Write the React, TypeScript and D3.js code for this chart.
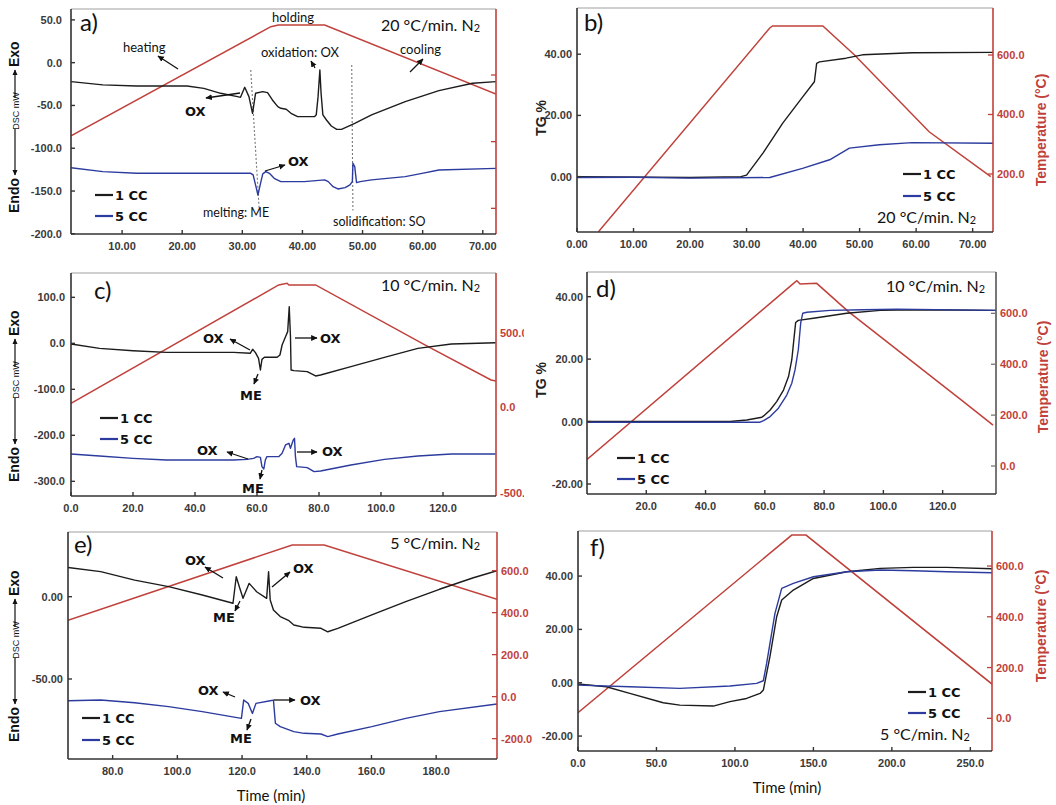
import React from "react";
import * as d3 from "d3";

type Pt = [number, number];

// ---------------- DATA ----------------
// Panel a) DSC, 20 °C/min (time min, DSC mW) ; temperature (time, °C)
const dscA_1cc: Pt[] = [[1.5,-22.2],[6.8,-26],[12.4,-27.3],[20.8,-27.3],[23.6,-30],[26.4,-35.8],[29.2,-39.7],[29.7,-40.5],[30.4,-28.8],[31.1,-39.7],[31.7,-59.2],[32.2,-35.8],[33.4,-33.9],[34.2,-35],[35.0,-43.6],[35.9,-51.4],[36.4,-53.3],[37.3,-54.5],[38.1,-59.2],[39.2,-63.1],[42.0,-63.1],[42.3,-61],[42.6,-39.7],[42.9,-8.6],[43.1,-35.8],[43.4,-61],[44.0,-67],[44.8,-74],[45.7,-77.9],[46.5,-77.9],[48.7,-70.9],[51.5,-61.1],[57.1,-45.6],[62.7,-32.7],[68.3,-24.1],[72.2,-22.2]];
const dscA_5cc: Pt[] = [[1.5,-122.7],[6.8,-127.3],[12.4,-129.3],[31.4,-129.3],[31.8,-131.2],[32.2,-142.9],[32.6,-154.6],[32.97,-142.9],[33.4,-130],[33.9,-127.3],[34.5,-129.3],[35.3,-135.1],[36.4,-139],[40.3,-139],[43.7,-137],[44.3,-139],[45.1,-144.9],[45.9,-147.6],[47.1,-146],[47.9,-142.9],[48.3,-139],[48.4,-117.6],[48.7,-121.5],[49.0,-140.2],[49.6,-139],[51.5,-137],[57.1,-133.2],[59.9,-129.3],[62.7,-125.4],[72.2,-123.5]];
const tempA: Pt[] = [[1.5,35],[34.75,690],[36,700],[43.7,700],[72.2,286]];
const guideA1: Pt[] = [[31.4,-8.6],[32.8,-170.8]];
const guideA2: Pt[] = [[48.2,-2.7],[48.4,-172.7]];

// Panel b) TG, 20 °C/min
const tgB_1cc: Pt[] = [[0,0],[20,-0.3],[29,0],[30,0.5],[32.9,7.7],[36.4,17.5],[39.9,26],[42,31],[42.4,37],[42.9,37.5],[47.6,38.7],[50.5,39.8],[59.3,40.5],[73.6,40.6]];
const tgB_5cc: Pt[] = [[0,-0.3],[10,-0.2],[20,-0.5],[34.1,-0.3],[39.9,2.7],[44.7,5.5],[48.2,9.3],[53.5,10.4],[59.3,11.1],[73.6,10.9]];
const tempB: Pt[] = [[3.8,6],[34.1,690.8],[34.6,697.5],[43.5,697.5],[49.1,600],[62.3,342],[73.2,191]];

// Panel c) DSC, 10 °C/min
const dscC_1cc: Pt[] = [[0,-1.4],[9.2,-10.9],[20,-16],[30.8,-19.6],[52.4,-19.6],[57.8,-21.7],[58.6,-13],[59.5,-20.3],[60.5,-32.6],[61.1,-58],[61.6,-34.8],[62.4,-30.4],[66.5,-30.4],[67.4,-25.4],[68.1,-3.6],[69.2,14.5],[69.9,25.4],[70.4,79.7],[70.8,14.5],[71,-58],[71.9,-59.4],[76.2,-61.6],[78.9,-71],[80.5,-68.8],[90.3,-50.7],[101.1,-30.4],[111.9,-10.9],[122.7,-1.4],[137,1.4]];
const dscC_5cc: Pt[] = [[0,-240.6],[9.2,-244.9],[20,-250],[30.8,-253.6],[52.4,-253.6],[56.8,-252.2],[58.9,-250],[60,-246.4],[61.1,-247.8],[61.6,-268],[62.2,-273.2],[62.7,-253.6],[63.2,-246.4],[67,-246.4],[68.1,-239],[69.2,-221],[70.3,-217.4],[70.8,-228],[71.7,-210],[72.1,-206.5],[72.4,-246.4],[72.8,-268],[76.2,-270.3],[78.4,-279],[80.5,-277.5],[90.3,-264.5],[101.1,-252.2],[111.9,-244.9],[122.7,-240.6],[137,-240.6]];
const tempC: Pt[] = [[0,22.7],[67,829.5],[69.7,841],[70.3,829.5],[78.9,829.5],[114.3,420],[135.5,182],[137.1,175]];

// Panel d) TG, 10 °C/min
const tgD_1cc: Pt[] = [[0,0],[48.3,0],[53.9,0.5],[59,1.4],[59.6,1.8],[61.8,3.7],[64,6.4],[66.3,10.1],[68,14.4],[69.1,19.8],[69.9,27.2],[70.4,31.7],[71.3,32.4],[76.4,33.1],[87.6,34.7],[98.9,35.6],[110.1,35.8],[138,35.6]];
const tgD_5cc: Pt[] = [[0,-0.2],[58.4,-0.2],[59.6,0.3],[61.8,1.6],[64.6,4.3],[67.4,8.5],[69.1,12.3],[70.2,16.6],[71.3,23],[72.1,31.5],[72.8,34.7],[74.2,35],[82,35.6],[93.3,35.8],[104.5,36],[138,35.6]];
const tempD: Pt[] = [[0,26],[69.7,718],[70.8,728],[71.9,715],[77.5,718],[88.2,607],[127,253],[137,161]];

// Panel e) DSC, 5 °C/min
const dscE_1cc: Pt[] = [[66.2,17.7],[76.3,15.2],[86.8,10.1],[97.3,6.1],[107.7,1],[117.2,-4],[118.2,12.1],[119.3,5.1],[120.3,-1],[122.2,8.1],[124.5,3],[127.6,-1],[128.2,15.2],[128.7,-2],[129.7,-8.1],[131.8,-12.1],[134.5,-14.6],[136,-17.2],[139.2,-18.6],[144.4,-19.2],[146.5,-21.3],[149.6,-19.2],[160.1,-11.1],[170.6,-3],[181,4.5],[191.5,11.5],[198.8,15.8]];
const dscE_5cc: Pt[] = [[66.2,-63.2],[76.3,-62.8],[86.8,-64.4],[97.3,-66.8],[107.7,-69.8],[119.8,-73.9],[120.5,-62.8],[121.9,-64.8],[123.2,-70.9],[124.3,-64.8],[128.7,-63.2],[129.7,-62.8],[130.3,-76.9],[131.8,-78.9],[136,-82],[139.2,-83],[144.4,-83.4],[146.5,-85],[149.6,-83.4],[160.1,-78.9],[170.6,-73.9],[181,-69.8],[198.8,-65.2]];
const tempE: Pt[] = [[66.2,364],[135.5,722],[145.4,722],[198.8,463.5]];

// Panel f) TG, 5 °C/min
const tgF_1cc: Pt[] = [[0,-0.5],[18.1,-1.5],[33,-4],[54.3,-7.5],[64.9,-8.4],[86.2,-8.75],[96.8,-7.1],[107.4,-5.9],[116,-4],[118.1,-2.75],[122.3,9.75],[126.6,24.75],[129.8,31],[137.2,34.75],[150,39.1],[171.3,41.6],[192.6,42.9],[213.8,43.25],[235.1,43.25],[263.8,42.75]];
const tgF_5cc: Pt[] = [[0,-0.9],[33,-1.5],[64.9,-2.1],[96.8,-1.25],[113.8,-0.25],[118.1,0.75],[120.2,7.25],[125.5,26],[129.8,35.4],[137.2,37.25],[150,39.75],[171.3,41.6],[192.6,42.25],[213.8,42],[235.1,41.6],[263.8,41.25]];
const tempF: Pt[] = [[0,22],[136.2,722],[145.3,722],[263.8,135]];

// Tick values
const xTicksA = [10, 20, 30, 40, 50, 60, 70];
const yTicksA = [50, 0, -50, -100, -150, -200];
const tTicksA = [400, 0, -400];
const xTicksB = [0, 10, 20, 30, 40, 50, 60, 70];
const yTicksB = [40, 20, 0];
const tTicksB = [600, 400, 200];
const xTicksC = [0, 20, 40, 60, 80, 100, 120];
const yTicksC = [100, 0, -100, -200, -300];
const tTicksC = [500, 0, -500];
const xTicksD = [20, 40, 60, 80, 100, 120];
const yTicksD = [40, 20, 0, -20];
const tTicksD = [600, 400, 200, 0];
const xTicksE = [80, 100, 120, 140, 160, 180];
const yTicksE = [0, -50];
const tTicksE = [600, 400, 200, 0, -200];
const xTicksF = [0, 50, 100, 150, 200, 250];
const yTicksF = [40, 20, 0, -20];
const tTicksF = [600, 400, 200, 0];

const legendLabels = ["1 CC", "5 CC"];

// ---------------- STYLE ----------------
const BLACK = "#1c1c1c";
const BLUE = "#2c3b9e";
const RED = "#c0413b";
const TICKF = "'Liberation Sans', Arial, sans-serif";
const CAL = "Lato, 'Open Sans', sans-serif";
const BOLDF = "'DejaVu Sans', Verdana, sans-serif";

type Txt = { x: number; y: number; s: string; size?: number; font?: string; weight?: string | number; anchor?: string; fill?: string; sub?: string };
type Arr = [number, number, number, number];

type PanelCfg = {
  id: string;
  frame: { l: number; r: number; t: number; b: number };
  xDomain: number[];
  yDomain: number[];
  tDomain: number[];
  tRange?: number[];
  xTicks: number[]; xDig: number;
  yTicks: number[]; yDig: number;
  tTicks: number[]; tLabels: boolean;
  s1: Pt[]; s5: Pt[]; temp: Pt[];
  guides?: Pt[][];
  rightColor: string;
  yLabelGap: number;
  clipRightLabels?: number;
  texts: Txt[];
  arrows: Arr[];
  legend: { x: number; y: number; gap: number };
};

const fmt = (v: number, d: number) => v.toFixed(d);

function Label({ t }: { t: Txt }) {
  return (
    <text x={t.x} y={t.y} fontSize={t.size ?? 13} fontFamily={t.font ?? CAL} fontWeight={t.weight ?? "normal"}
      textAnchor={(t.anchor as any) ?? "start"} fill={t.fill ?? "#111"}>
      {t.s}
      {t.sub ? <tspan fontSize={(t.size ?? 13) * 0.68} dy={1}>{t.sub}</tspan> : null}
    </text>
  );
}

function Panel({ p }: { p: PanelCfg }) {
  const { l, r, t, b } = p.frame;
  const x = d3.scaleLinear().domain(p.xDomain).range([l, r]);
  const y = d3.scaleLinear().domain(p.yDomain).range([b, t]);
  const T = d3.scaleLinear().domain(p.tDomain).range(p.tRange ?? [b, t]);
  const ln = d3.line<Pt>().x((d) => x(d[0])).y((d) => y(d[1]));
  const tl = d3.line<Pt>().x((d) => x(d[0])).y((d) => T(d[1]));
  const clipId = `clip-${p.id}`;
  const lblClip = `lclip-${p.id}`;
  return (
    <g>
      <defs>
        <clipPath id={clipId}><rect x={l} y={t} width={r - l} height={b - t} /></clipPath>
        {p.clipRightLabels ? <clipPath id={lblClip}><rect x={r} y={t - 10} width={p.clipRightLabels - r} height={b - t + 20} /></clipPath> : null}
      </defs>
      <g clipPath={`url(#${clipId})`}>
        <path d={tl(p.temp) ?? ""} fill="none" stroke={RED} strokeWidth={1.5} />
        {(p.guides ?? []).map((g, i) => (
          <path key={i} d={ln(g) ?? ""} fill="none" stroke="#777" strokeWidth={1.1} strokeDasharray="2,2" />
        ))}
        <path d={ln(p.s1) ?? ""} fill="none" stroke={BLACK} strokeWidth={1.4} strokeLinejoin="round" />
        <path d={ln(p.s5) ?? ""} fill="none" stroke={BLUE} strokeWidth={1.4} strokeLinejoin="round" />
      </g>
      {/* frame */}
      <line x1={l} x2={r} y1={t} y2={t} stroke="#a0a0a0" strokeWidth={1.2} />
      <line x1={r} x2={r} y1={t} y2={b} stroke={p.rightColor} strokeWidth={1.6} />
      <line x1={l} x2={l} y1={t} y2={b} stroke="#333" strokeWidth={1.6} />
      <line x1={l} x2={r} y1={b} y2={b} stroke="#333" strokeWidth={1.6} />
      {/* x ticks */}
      {p.xTicks.map((v) => (
        <g key={`x${v}`}>
          <line x1={x(v)} x2={x(v)} y1={b} y2={b - 4} stroke="#333" strokeWidth={1.4} />
          <text x={x(v)} y={b + 16} fontSize={11} fontFamily={TICKF} fontWeight="bold" fill="#3a3a3a" textAnchor="middle">{fmt(v, p.xDig)}</text>
        </g>
      ))}
      {/* y ticks */}
      {p.yTicks.map((v) => (
        <g key={`y${v}`}>
          <line x1={l} x2={l + 4} y1={y(v)} y2={y(v)} stroke="#333" strokeWidth={1.4} />
          <text x={l - p.yLabelGap} y={y(v) + 4} fontSize={11} fontFamily={TICKF} fontWeight="bold" fill="#3a3a3a" textAnchor="end">{fmt(v, p.yDig)}</text>
        </g>
      ))}
      {/* right temperature ticks */}
      <g clipPath={p.clipRightLabels ? `url(#${lblClip})` : undefined}>
        {p.tTicks.map((v) => (
          <g key={`t${v}`}>
            <line x1={r} x2={r - 5} y1={T(v)} y2={T(v)} stroke={p.rightColor === RED ? RED : "#777"} strokeWidth={1.3} />
            {p.tLabels ? (
              <text x={r + 4} y={T(v) + 4} fontSize={11} fontFamily={TICKF} fontWeight="bold" fill={RED}>{fmt(v, 1)}</text>
            ) : null}
          </g>
        ))}
      </g>
      {/* legend */}
      {legendLabels.map((s, i) => (
        <g key={s}>
          <line x1={p.legend.x} x2={p.legend.x + 18} y1={p.legend.y + i * p.legend.gap} y2={p.legend.y + i * p.legend.gap}
            stroke={i === 0 ? BLACK : BLUE} strokeWidth={2.2} />
          <text x={p.legend.x + 20} y={p.legend.y + i * p.legend.gap + 5} fontSize={13} fontFamily={BOLDF} fontWeight="bold" fill="#111">{s}</text>
        </g>
      ))}
      {p.texts.map((tx, i) => <Label key={i} t={tx} />)}
      {p.arrows.map((a, i) => (
        <line key={i} x1={a[0]} y1={a[1]} x2={a[2]} y2={a[3]} stroke="#111" strokeWidth={1.3} markerEnd="url(#ah)" />
      ))}
    </g>
  );
}

function DscYLabel({ dy }: { dy: number }) {
  return (
    <g transform={`translate(19,${dy}) rotate(-90)`}>
      <text x={-213} y={0} fontSize={14} fontFamily={TICKF} fontWeight="bold" fill="#111">Endo</text>
      <line x1={-129} x2={-175} y1={-4} y2={-4} stroke="#111" strokeWidth={1.2} markerEnd="url(#ah)" />
      <text x={-111} y={0} fontSize={9} fontFamily={TICKF} textAnchor="middle" fill="#111">DSC mW</text>
      <line x1={-98} x2={-70} y1={-4} y2={-4} stroke="#111" strokeWidth={1.2} markerEnd="url(#ah)" />
      <text x={-67} y={0} fontSize={14} fontFamily={TICKF} fontWeight="bold" fill="#111">Exo</text>
    </g>
  );
}

function RotLabel({ x, y, s, fill }: { x: number; y: number; s: string; fill: string }) {
  return (
    <text transform={`translate(${x},${y}) rotate(-90)`} textAnchor="middle" fontSize={14} fontFamily={TICKF} fontWeight="bold" fill={fill}>{s}</text>
  );
}

const OX = (x: number, y: number, s = "OX"): Txt => ({ x, y, s, size: 13, font: BOLDF, weight: "bold" });

const panels: PanelCfg[] = [
  {
    id: "a", frame: { l: 71, r: 496, t: 9, b: 234 },
    xDomain: [1.5, 72.2], yDomain: [-200.2, 62.7], tDomain: [-554, 796],
    xTicks: xTicksA, xDig: 2, yTicks: yTicksA, yDig: 1, tTicks: tTicksA, tLabels: false,
    s1: dscA_1cc, s5: dscA_5cc, temp: tempA, guides: [guideA1, guideA2],
    rightColor: RED, yLabelGap: 9,
    legend: { x: 95, y: 195, gap: 21 },
    texts: [
      { x: 80, y: 31, s: "a)", size: 24 },
      { x: 293, y: 22, s: "holding", size: 13, anchor: "middle" },
      { x: 480, y: 31, s: "20 °C/min. N", size: 16, anchor: "end", sub: "2" },
      { x: 123, y: 52, s: "heating", size: 13 },
      { x: 300, y: 57, s: "oxidation: OX", size: 13, anchor: "middle" },
      { x: 400, y: 54, s: "cooling", size: 13 },
      OX(185, 116), OX(288, 166),
      { x: 203, y: 217, s: "melting: ME", size: 12.5 },
      { x: 333, y: 226, s: "solidification: SO", size: 12.5 },
    ],
    arrows: [[178, 69, 158, 56], [315, 68, 311, 61], [410, 72, 423, 59], [240, 93, 206, 98], [265, 171, 285, 165]],
  },
  {
    id: "b", frame: { l: 577, r: 993, t: 8, b: 232 },
    xDomain: [0, 73.6], yDomain: [-18.1, 55.1], tDomain: [5, 758],
    xTicks: xTicksB, xDig: 2, yTicks: yTicksB, yDig: 2, tTicks: tTicksB, tLabels: true,
    s1: tgB_1cc, s5: tgB_5cc, temp: tempB,
    rightColor: RED, yLabelGap: 5,
    legend: { x: 903, y: 174, gap: 22 },
    texts: [
      { x: 584, y: 31, s: "b)", size: 24 },
      { x: 877, y: 223, s: "20 °C/min. N", size: 16, sub: "2" },
    ],
    arrows: [],
  },
  {
    id: "c", frame: { l: 71, r: 496, t: 273, b: 496 },
    xDomain: [0, 137.1], yDomain: [-331.9, 152.9],
    tDomain: [-519, -500, 0, 500, 911], tRange: [496, 492.7, 406.7, 333.3, 273],
    xTicks: xTicksC, xDig: 1, yTicks: yTicksC, yDig: 1, tTicks: tTicksC, tLabels: true,
    s1: dscC_1cc, s5: dscC_5cc, temp: tempC,
    rightColor: RED, yLabelGap: 6, clipRightLabels: 524,
    legend: { x: 100, y: 418, gap: 21 },
    texts: [
      { x: 94, y: 299, s: "c)", size: 24 },
      { x: 480, y: 291, s: "10 °C/min. N", size: 16, anchor: "end", sub: "2" },
      OX(203, 343), OX(320, 343), OX(240, 400, "ME"),
      OX(197, 455), OX(322, 456), OX(242, 493, "ME"),
    ],
    arrows: [[250, 350, 230, 339], [295, 338, 317, 338], [258, 374, 254, 384], [248, 459, 227, 452], [297, 452, 317, 452], [262, 470, 260, 479]],
  },
  {
    id: "d", frame: { l: 587, r: 996, t: 272, b: 494 },
    xDomain: [0, 138], yDomain: [-23.2, 47.9], tDomain: [-110, 762.5],
    xTicks: xTicksD, xDig: 1, yTicks: yTicksD, yDig: 2, tTicks: tTicksD, tLabels: true,
    s1: tgD_1cc, s5: tgD_5cc, temp: tempD,
    rightColor: "#555", yLabelGap: 4,
    legend: { x: 617, y: 458, gap: 21 },
    texts: [
      { x: 596, y: 297, s: "d)", size: 24 },
      { x: 985, y: 292, s: "10 °C/min. N", size: 16, anchor: "end", sub: "2" },
    ],
    arrows: [],
  },
  {
    id: "e", frame: { l: 68, r: 497, t: 532, b: 759 },
    xDomain: [66.2, 198.8], yDomain: [-98.6, 39.3], tDomain: [-297, 784],
    xTicks: xTicksE, xDig: 1, yTicks: yTicksE, yDig: 2, tTicks: tTicksE, tLabels: true,
    s1: dscE_1cc, s5: dscE_5cc, temp: tempE,
    rightColor: RED, yLabelGap: 5,
    legend: { x: 82, y: 718, gap: 22 },
    texts: [
      { x: 74, y: 553, s: "e)", size: 24 },
      { x: 480, y: 549, s: "5 °C/min. N", size: 16, anchor: "end", sub: "2" },
      OX(185, 565), OX(213, 622, "ME"), OX(293, 573),
      OX(198, 695), OX(230, 743, "ME"), OX(300, 705),
      { x: 271, y: 801, s: "Time (min)", size: 15, anchor: "middle" },
    ],
    arrows: [[223, 578, 205, 567], [240, 601, 235, 611], [272, 587, 290, 572], [235, 697, 223, 692], [251, 719, 247, 730], [274, 700, 295, 700]],
  },
  {
    id: "f", frame: { l: 578, r: 992, t: 531, b: 751 },
    xDomain: [0, 263.8], yDomain: [-25.6, 56.9], tDomain: [-128.7, 738],
    xTicks: xTicksF, xDig: 1, yTicks: yTicksF, yDig: 2, tTicks: tTicksF, tLabels: true,
    s1: tgF_1cc, s5: tgF_5cc, temp: tempF,
    rightColor: RED, yLabelGap: 5,
    legend: { x: 908, y: 692, gap: 21 },
    texts: [
      { x: 590, y: 556, s: "f)", size: 24 },
      { x: 880, y: 740, s: "5 °C/min. N", size: 16, sub: "2" },
      { x: 787, y: 793, s: "Time (min)", size: 15, anchor: "middle" },
    ],
    arrows: [],
  },
];

export default function App() {
  return (
    <svg width={1056} height={805} style={{ position: "absolute", left: 0, top: 0, background: "#fff" }}>
      <defs>
        <marker id="ah" viewBox="0 0 10 10" refX={9} refY={5} markerWidth={5} markerHeight={5} orient="auto">
          <path d="M0,0.5 L10,5 L0,9.5 z" fill="#111" />
        </marker>
      </defs>
      <rect x={0} y={0} width={1056} height={805} fill="#fff" />
      {panels.map((p) => <Panel key={p.id} p={p} />)}
      <DscYLabel dy={0} />
      <DscYLabel dy={269} />
      <DscYLabel dy={529} />
      <RotLabel x={546} y={118} s="TG %" fill="#222" />
      <RotLabel x={546} y={380} s="TG %" fill="#222" />
      <RotLabel x={1046} y={130} s="Temperature (°C)" fill={RED} />
      <RotLabel x={1048} y={377} s="Temperature (°C)" fill={RED} />
      <RotLabel x={1046} y={626} s="Temperature (°C)" fill={RED} />
    </svg>
  );
}
